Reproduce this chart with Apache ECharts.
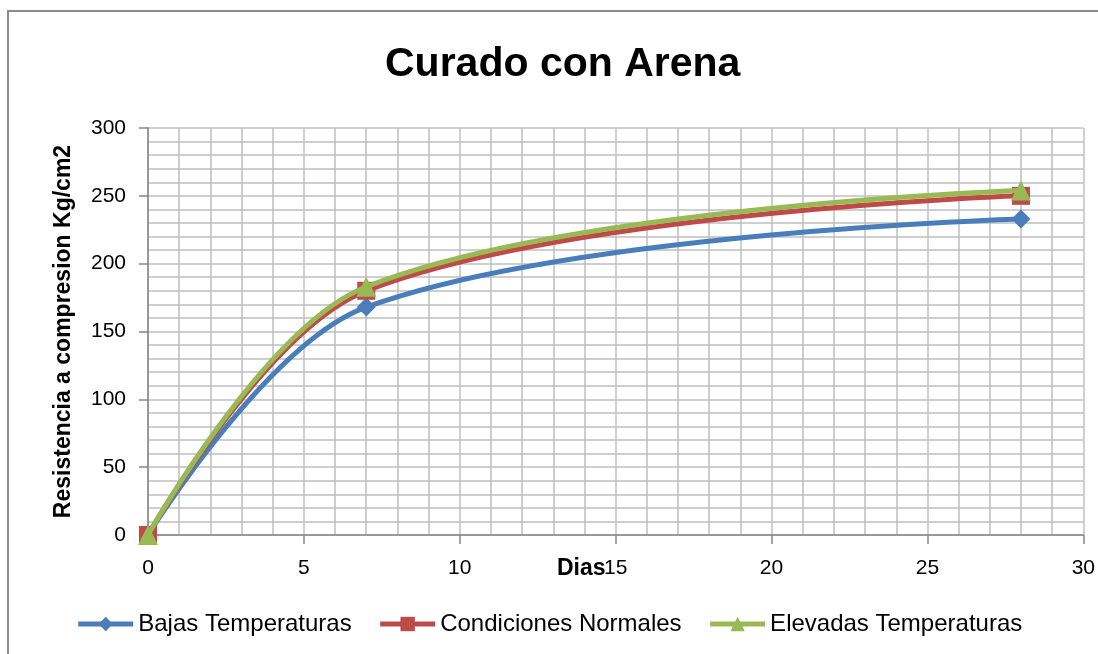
<!DOCTYPE html>
<html>
<head>
<meta charset="utf-8">
<script src="https://cdn.jsdelivr.net/npm/echarts@6/dist/echarts.min.js"></script>
<style>
    html,body{margin:0;padding:0;background:#fff;}
    #chart{width:1098px;height:654px;}
</style>
</head>
<body>
<div id="chart"></div>
<script>
    //datos
    var dias = [0, 7, 28];
    var bajas = [0, 168, 233];
    var normales = [0, 180, 250];
    var elevadas = [0, 183, 254];
    var nombres = ['Bajas Temperaturas', 'Condiciones Normales', 'Elevadas Temperaturas'];
    var colores = ['#4a7ebb', '#be4b48', '#98b954'];

    var fuente = 'Liberation Sans';

    function pares(ys){
        var out = [];
        for(var i=0;i<dias.length;i++){
            out.push([dias[i], ys[i]]);
        }
        return out;
    }

    function serie(idx, ys, symbol, size){
        return {
            name: nombres[idx],
            type: 'line',
            data: pares(ys),
            smooth: 0.35,
            symbol: symbol,
            symbolSize: size,
            lineStyle: { width: 5, color: colores[idx] },
            itemStyle: { color: colores[idx] },
            z: 2 + idx
        };
    }

    var myChart = echarts.init(document.getElementById('chart'));
    var option = {
        animation: false,
        title: {
            text: 'Curado con Arena',
            left: 380,
            top: 39,
            textStyle: { fontFamily: fuente, fontWeight: 'bold', fontSize: 41, color: '#000' }
        },
        grid: { left: 148, right: 14, top: 128, bottom: 119 },
        legend: {
            bottom: 13,
            left: 'center',
            itemWidth: 55,
            itemHeight: 18,
            itemGap: 26,
            lineStyle: { width: 5 },
            textStyle: { fontFamily: fuente, fontSize: 24, color: '#000' },
            data: nombres
        },
        graphic: [{
            type: 'rect',
            shape: { x: 8, y: 11, width: 1200, height: 800 },
            style: { fill: 'none', stroke: '#8c8c8c', lineWidth: 2 },
            silent: true
        }, {
            type: 'text',
            left: 557,
            top: 557,
            style: { text: 'Dias', font: 'bold 23px ' + fuente, fill: '#000' }
        }],
        xAxis: {
            type: 'value',
            min: 0, max: 30, interval: 5,
            axisLine: { lineStyle: { color: '#868686', width: 1.5 } },
            axisTick: { show: true, length: 9, lineStyle: { color: '#868686', width: 1.5 } },
            axisLabel: { fontFamily: fuente, fontSize: 21, color: '#000', margin: 23 },
            splitLine: { show: true, lineStyle: { color: '#bfbfbf', width: 1.5 } },
            minorSplitLine: { show: true, lineStyle: { color: '#bfbfbf', width: 1.5 } },
            minorTick: { show: false, splitNumber: 5 }
        },
        yAxis: {
            type: 'value',
            min: 0, max: 300, interval: 50,
            name: 'Resistencia a compresion Kg/cm2',
            nameLocation: 'middle',
            nameGap: 73,
            nameTextStyle: { fontFamily: fuente, fontWeight: 'bold', fontSize: 23, color: '#000' },
            axisLine: { show: true, lineStyle: { color: '#868686', width: 1.5 } },
            axisTick: { show: true, length: 9, lineStyle: { color: '#868686', width: 1.5 } },
            axisLabel: { fontFamily: fuente, fontSize: 21, color: '#000', margin: 22 },
            splitLine: { show: true, lineStyle: { color: '#bfbfbf', width: 1.5 } },
            minorSplitLine: { show: true, lineStyle: { color: '#bfbfbf', width: 1.5 } },
            minorTick: { show: false, splitNumber: 5 }
        },
        series: [
            serie(0, bajas, 'diamond', 19),
            serie(1, normales, 'rect', 18),
            serie(2, elevadas, 'triangle', 20)
        ]
    };
    myChart.setOption(option);
</script>
</body>
</html>
